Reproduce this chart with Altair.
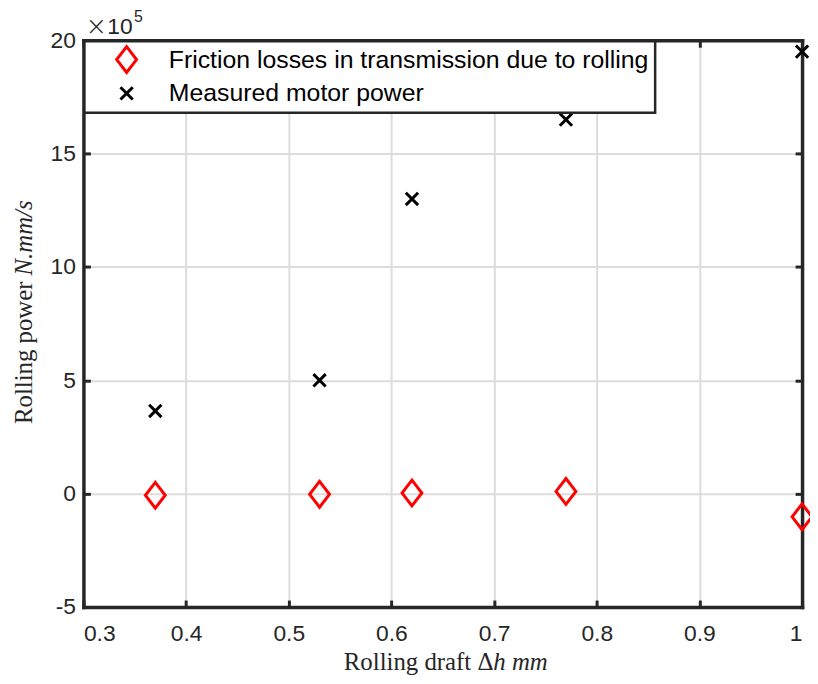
import altair as alt
import pandas as pd

# ---- data ----
draft_mm = [0.37, 0.53, 0.62, 0.77, 1.0]
friction_losses = [-0.07e5, -0.03e5, 0.03e5, 0.1e5, -1.02e5]
motor_power = [3.65e5, 5.0e5, 13.0e5, 16.5e5, 19.5e5]
series_names = ["Friction losses in transmission due to rolling", "Measured motor power"]
x_ticks = [0.3, 0.4, 0.5, 0.6, 0.7, 0.8, 0.9, 1.0]
y_ticks = [-5e5, 0, 5e5, 10e5, 15e5, 20e5]
x_title_parts = ["Rolling draft Δ", "h mm"]      # upright, italic
y_title_parts = ["Rolling power", "N.mm/s"]      # upright, italic
exponent_parts = ["×", "10", "5"]

rows = []
for xv, yv in zip(draft_mm, friction_losses):
    rows.append({"x": xv, "y": yv, "series": series_names[0]})
for xv, yv in zip(draft_mm, motor_power):
    rows.append({"x": xv, "y": yv, "series": series_names[1]})
df = pd.DataFrame(rows)

W, H = 724, 571
INK = "#262626"
DIAMOND = "M0,-1.3L1,0L0,1.3L-1,0Z"
CROSS = "M-0.62,-0.62L0.62,0.62M-0.62,0.62L0.62,-0.62"

xscale = alt.Scale(domain=[0.3, 1.0], nice=False, zero=False)
yscale = alt.Scale(domain=[-5e5, 20e5], nice=False, zero=False)

main = alt.Chart(df).mark_point(filled=False, size=400, strokeWidth=3, opacity=1).encode(
    x=alt.X("x:Q", scale=xscale,
            axis=alt.Axis(values=x_ticks, orient="bottom", grid=True, ticks=False,
                          domain=True, domainColor=INK, domainWidth=3.5, domainCap="square",
                          labelExpr="'' + datum.value", labelFont="Liberation Sans", labelFontSize=23,
                          labelColor=INK, labelPadding=16, labelBaseline="top", title=None)),
    y=alt.Y("y:Q", scale=yscale,
            axis=alt.Axis(values=y_ticks, orient="left", grid=True, ticks=False,
                          domain=True, domainColor=INK, domainWidth=3.5, domainCap="square",
                          labelExpr="'' + datum.value / 100000", labelFont="Liberation Sans", labelFontSize=23,
                          labelColor=INK, labelPadding=8, title=None)),
    color=alt.Color("series:N", scale=alt.Scale(domain=series_names, range=["#ff0000", "#000000"]),
                    legend=alt.Legend(title=None, orient="none", legendX=1, legendY=1,
                                      fillColor="white", strokeColor=INK, padding=6,
                                      symbolOffset=24, labelOffset=30, rowPadding=2,
                                      symbolSize=400, symbolStrokeWidth=3,
                                      labelFont="Liberation Sans", labelFontSize=25,
                                      labelColor="#000000", labelLimit=800, cornerRadius=0)),
    shape=alt.Shape("series:N", scale=alt.Scale(domain=series_names, range=[DIAMOND, CROSS])),
)

ticks_bl = alt.Chart(df).mark_point(opacity=0).encode(
    x=alt.X("x:Q", scale=xscale,
            axis=alt.Axis(values=x_ticks, orient="bottom", offset=-7, tickSize=7, tickWidth=3,
                          tickColor=INK, labels=False, domain=False, grid=False, title=None)),
    y=alt.Y("y:Q", scale=yscale,
            axis=alt.Axis(values=y_ticks, orient="left", offset=-7, tickSize=7, tickWidth=3,
                          tickColor=INK, labels=False, domain=False, grid=False, title=None)),
)

ticks_tr = alt.Chart(df).mark_point(opacity=0).encode(
    x=alt.X("x:Q", scale=xscale,
            axis=alt.Axis(values=x_ticks, orient="top", offset=-7, tickSize=7, tickWidth=3,
                          tickColor=INK, labels=False, domain=False, grid=False, title=None)),
    y=alt.Y("y:Q", scale=yscale,
            axis=alt.Axis(values=y_ticks, orient="right", offset=-7, tickSize=7, tickWidth=3,
                          tickColor=INK, labels=False, domain=False, grid=False, title=None)),
)

frame_tr = alt.Chart(df).mark_point(opacity=0).encode(
    x=alt.X("x:Q", scale=xscale,
            axis=alt.Axis(orient="top", ticks=False, labels=False, grid=False, title=None,
                          domain=True, domainColor=INK, domainWidth=3.5, domainCap="square")),
    y=alt.Y("y:Q", scale=yscale,
            axis=alt.Axis(orient="right", ticks=False, labels=False, grid=False, title=None,
                          domain=True, domainColor=INK, domainWidth=3.5, domainCap="square")),
)


def label(text, x, y, font, size, align="left", baseline="alphabetic", style="normal", angle=0, weight="normal"):
    return alt.Chart(pd.DataFrame({"t": [text]})).mark_text(
        font=font, fontSize=size, fontStyle=style, fontWeight=weight, color=INK,
        align=align, baseline=baseline, angle=angle
    ).encode(x=alt.value(x), y=alt.value(y), text="t:N")


SERIF = "Liberation Serif"
xt1 = label(x_title_parts[0], 413, 626, SERIF, 25, align="right", baseline="middle")
xt2 = label(x_title_parts[1], 413, 626, SERIF, 25, align="left", baseline="middle", style="italic")
yt1 = label(y_title_parts[0], -60, 243, SERIF, 25, align="right", baseline="middle", angle=270)
yt2 = label(y_title_parts[1], -60, 237, SERIF, 25, align="left", baseline="middle", style="italic", angle=270)

exp_times = label(exponent_parts[0], 2, -5, "DejaVu Sans", 26, weight=300)
exp_base = label(exponent_parts[1], 24, -6, "Liberation Sans", 23)
exp_sup = label(exponent_parts[2], 51, -18, "Liberation Sans", 16)

chart = alt.layer(
    main, ticks_bl, ticks_tr, frame_tr, xt1, xt2, yt1, yt2, exp_times, exp_base, exp_sup
).resolve_axis(
    x="independent", y="independent"
).properties(
    width=W, height=H,
    autosize=alt.AutoSizeParams(type="none"),
    padding={"left": 76, "top": 30, "right": 8, "bottom": 67},
).configure_view(
    stroke=None
).configure_axis(
    gridColor="#dcdcdc", gridWidth=2, gridOpacity=1
).configure_legend(
    strokeWidth=2.5
)

chart.save("out.html", embed_options={"renderer": "svg", "actions": False})
